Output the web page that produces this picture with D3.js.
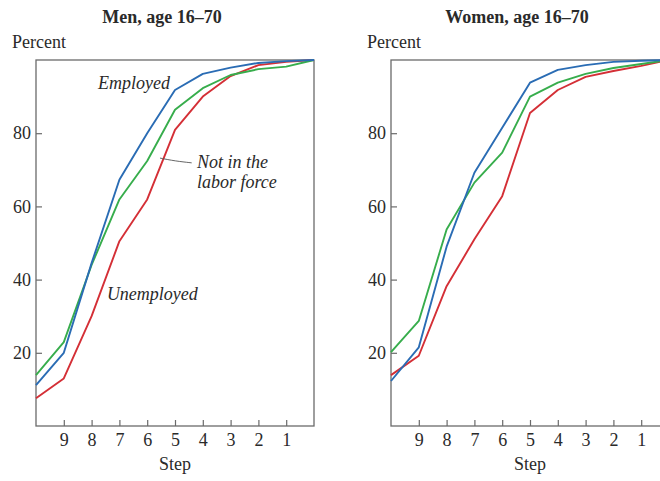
<!DOCTYPE html>
<html>
<head>
<meta charset="utf-8">
<script src="https://cdn.jsdelivr.net/npm/d3@7/dist/d3.min.js"></script>
<style>
  html, body { margin: 0; padding: 0; background: #fff; }
  svg { display: block; }
  text { font-family: "Liberation Serif", "DejaVu Serif", serif; fill: #2a2a2a; }
</style>
</head>
<body>
<div id="chart"></div>
<script>
// Steps from 10 down to 0 (x axis runs 10 → 0)
const steps = [10, 9, 8, 7, 6, 5, 4, 3, 2, 1, 0];
const stepTicks = [9, 8, 7, 6, 5, 4, 3, 2, 1];
const percentTicks = [20, 40, 60, 80];

// Men, age 16–70: cumulative percent by step
const menEmployed     = [11.2, 20.0, 44.5, 67.3, 80.0, 91.8, 96.2, 97.9, 99.2, 99.7, 100];
const menNotInLabor   = [13.9, 22.9, 44.0, 61.9, 72.4, 86.4, 92.3, 95.9, 97.5, 98.2, 100];
const menUnemployed   = [7.6, 13.0, 30.0, 50.5, 61.9, 80.9, 90.0, 95.6, 98.6, 99.5, 100];

// Women, age 16–70
const womenEmployed   = [12.3, 21.5, 49.0, 69.2, 81.5, 93.8, 97.3, 98.6, 99.5, 99.8, 100];
const womenNotInLabor = [20.2, 28.7, 53.7, 66.5, 74.7, 90.0, 93.8, 96.2, 97.8, 98.9, 100];
const womenUnemployed = [13.9, 19.2, 38.2, 51.0, 62.8, 85.5, 91.8, 95.4, 97.0, 98.4, 100];

const colors = { employed: "#2a6cb4", notInLabor: "#37ad4c", unemployed: "#d42f36" };

const W = 660, H = 481;
const svg = d3.select("#chart").append("svg").attr("width", W).attr("height", H);

const panels = [
  { title: "Men, age 16–70", left: 36, series: [
      { values: menUnemployed, color: colors.unemployed },
      { values: menNotInLabor, color: colors.notInLabor },
      { values: menEmployed, color: colors.employed } ] },
  { title: "Women, age 16–70", left: 391, series: [
      { values: womenUnemployed, color: colors.unemployed },
      { values: womenNotInLabor, color: colors.notInLabor },
      { values: womenEmployed, color: colors.employed } ] }
];

const plotW = 278, plotTop = 60, plotBottom = 426;
const axisColor = "#6a6a6a";
const fs = 18;

panels.forEach((p, i) => {
  const x = d3.scaleLinear().domain([10, 0]).range([p.left, p.left + plotW]);
  const y = d3.scaleLinear().domain([0, 100]).range([plotBottom, plotTop]);
  const g = svg.append("g");

  // frame
  g.append("rect")
    .attr("x", x(10)).attr("y", y(100))
    .attr("width", x(0) - x(10)).attr("height", y(0) - y(100))
    .attr("fill", "none").attr("stroke", axisColor).attr("stroke-width", 1.3);

  // x axis ticks (inward)
  const xAxis = d3.axisBottom(x).tickValues(stepTicks).tickSize(-6).tickPadding(7).tickFormat(d3.format("d"));
  const xg = g.append("g").attr("transform", `translate(0,${plotBottom})`).call(xAxis);
  xg.select(".domain").remove();
  xg.selectAll("line").attr("stroke", axisColor).attr("stroke-width", 1.2);
  xg.selectAll("text").attr("font-size", fs).attr("font-family", "Liberation Serif, serif").attr("fill", "#2a2a2a");

  // y axis ticks (inward)
  const yAxis = d3.axisLeft(y).tickValues(percentTicks).tickSize(-6).tickPadding(5).tickFormat(d3.format("d"));
  const yg = g.append("g").attr("transform", `translate(${p.left},0)`).call(yAxis);
  yg.select(".domain").remove();
  yg.selectAll("line").attr("stroke", axisColor).attr("stroke-width", 1.2);
  yg.selectAll("text").attr("font-size", fs).attr("font-family", "Liberation Serif, serif").attr("fill", "#2a2a2a");

  // series lines
  const line = d3.line().x((d, j) => x(steps[j])).y(d => y(d));
  p.series.forEach(s => {
    g.append("path").datum(s.values)
      .attr("d", line)
      .attr("fill", "none")
      .attr("stroke", s.color)
      .attr("stroke-width", 1.9)
      .attr("stroke-linejoin", "round");
  });

  // titles and axis labels
  svg.append("text").attr("x", p.left + 126).attr("y", 23)
    .attr("text-anchor", "middle").attr("font-weight", "bold").attr("font-size", fs)
    .text(p.title);
  svg.append("text").attr("x", p.left - 24).attr("y", 48)
    .attr("font-size", fs).text("Percent");
  svg.append("text").attr("x", x(5)).attr("y", 470)
    .attr("text-anchor", "middle").attr("font-size", fs).text("Step");

  if (i === 0) {
    // series labels, one text per label; multi-line labels use tspans
    const lab = (lines, sx, py) => {
      const t = svg.append("text")
        .attr("x", x(sx)).attr("y", y(py))
        .attr("font-style", "italic").attr("font-size", fs);
      lines.forEach((ln, k) => t.append("tspan")
        .attr("x", x(sx)).attr("dy", k === 0 ? 0 : 20).text(ln));
    };
    lab(["Employed"], 7.77, 92.1);
    lab(["Not in the", "labor force"], 4.21, 70.5);
    lab(["Unemployed"], 7.45, 34.4);
    // leader from the label to the not-in-labor-force line
    svg.append("path")
      .attr("d", d3.line().curve(d3.curveBasis)([[x(5.54), y(73.2)], [x(5.0), y(72.4)], [x(4.4), y(71.9)]]))
      .attr("fill", "none").attr("stroke", "#555").attr("stroke-width", 0.9);
  }
});
</script>
</body>
</html>
